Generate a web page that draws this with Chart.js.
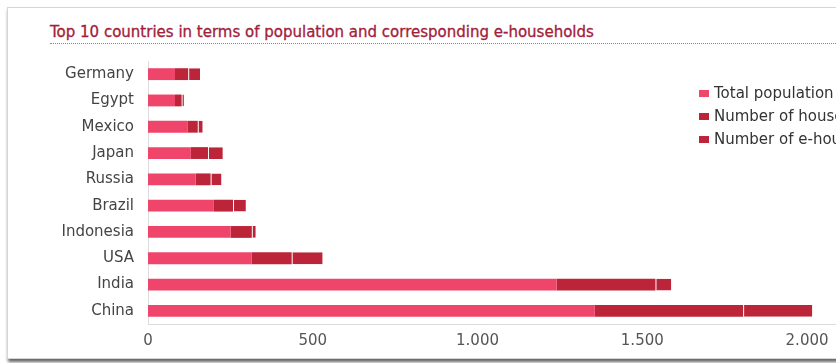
<!DOCTYPE html>
<html>
<head>
<meta charset="utf-8">
<script src="https://cdn.jsdelivr.net/npm/chart.js@4"></script>
<style>
  html, body { margin: 0; padding: 0; background: #fff; width: 836px; height: 363px; overflow: hidden; }
  #frame {
    position: absolute; left: 7px; top: 7px; width: 860px; height: 350px;
    border: 1px solid #d6d6d6; box-shadow: 1px 3px 3px #666; background: #fff;
  }
  #title {
    position: absolute; left: 50px; top: 23px; font: 15px "DejaVu Sans", sans-serif;
    color: #a3203a; white-space: nowrap; -webkit-text-stroke: 0.3px #a3203a;
  }
  #rule {
    position: absolute; left: 50px; top: 43px; width: 800px; border-top: 1px dotted #c86a7a;
  }
  #wrap { position: absolute; left: 0; top: 38px; width: 840px; height: 317px; }
  #legend { position: absolute; left: 699px; top: 84px; font: 15px "DejaVu Sans", sans-serif; color: #333; white-space: nowrap; }
  #legend div { height: 23px; line-height: 18px; }
  #legend span.box { display: inline-block; width: 10px; height: 7px; margin-right: 5px; vertical-align: 1px; }
</style>
</head>
<body>
<div id="frame"></div>
<div id="title">Top 10 countries in terms of population and corresponding e-households</div>
<div id="rule"></div>
<div id="wrap"><canvas id="chart"></canvas></div>
<div id="legend"></div>
<script>
const countries = ["Germany", "Egypt", "Mexico", "Japan", "Russia", "Brazil", "Indonesia", "USA", "India", "China"];
const totalPopulation = [82, 82, 121, 130, 145, 200, 251, 315, 1240, 1356];
const households = [40, 20, 30, 52, 45, 58, 64, 121, 300, 450];
const eHouseholds = [36, 7, 15, 45, 33, 39, 12, 94, 48, 210];
const seriesNames = ["Total population", "Number of households", "Number of e-households"];
const seriesColors = ["#f0456a", "#bc2539", "#bc2539"];
const xTicks = [0, 500, 1000, 1500, 2000];

const fontFamily = "'DejaVu Sans', sans-serif";

const datasets = [totalPopulation, households, eHouseholds].map((vals, i) => ({
  label: seriesNames[i],
  data: vals,
  backgroundColor: seriesColors[i],
  borderColor: "rgba(255,255,255,0.35)",
  borderWidth: i === 2 ? { left: 1 } : 0,
  borderSkipped: false,
  barPercentage: 0.45,
  categoryPercentage: 1,
}));

new Chart(document.getElementById("chart"), {
  type: "bar",
  data: { labels: countries, datasets: datasets },
  options: {
    indexAxis: "y",
    responsive: true,
    maintainAspectRatio: false,
    animation: false,
    layout: { padding: { top: 10, right: 0, left: 0, bottom: 0 } },
    plugins: { legend: { display: false }, tooltip: { enabled: false } },
    scales: {
      x: {
        stacked: true,
        min: 0,
        max: 2100,
        afterBuildTicks: (scale) => {
          scale.ticks = xTicks.map((v) => ({ value: v }));
        },
        afterFit: (scale) => { scale.height = 31; },
        ticks: {
          padding: 8,
          color: "#555",
          font: { family: fontFamily, size: 15 },
          callback: (v) => v.toLocaleString("de-DE"),
        },
        grid: { display: false, drawTicks: false },
        border: { display: true, color: "#dcdcdc", width: 1 },
      },
      y: {
        stacked: true,
        afterFit: (scale) => { scale.width = 148; },
        ticks: {
          padding: 14,
          color: "#444",
          font: { family: fontFamily, size: 15 },
        },
        grid: { display: false, drawTicks: false },
        border: { display: true, color: "#dcdcdc", width: 1 },
      },
    },
  },
});

const legend = document.getElementById("legend");
legend.innerHTML = seriesNames
  .map((name, i) => `<div><span class="box" style="background:${seriesColors[i]}"></span>${name}</div>`)
  .join("");
</script>
</body>
</html>
